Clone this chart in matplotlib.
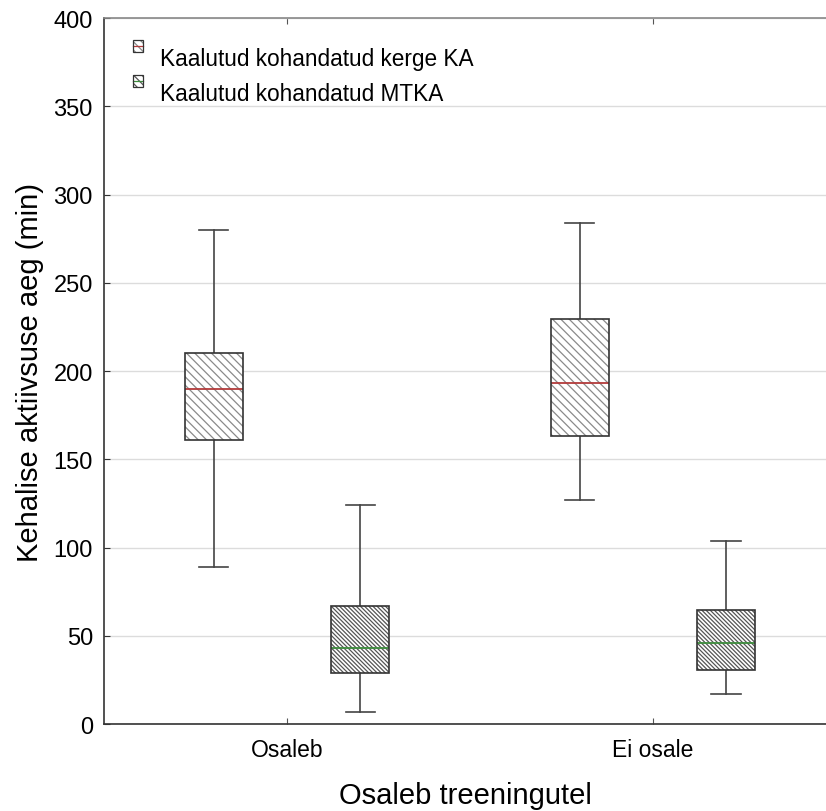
import matplotlib
matplotlib.use("Agg")
import matplotlib.pyplot as plt
from matplotlib.patches import Rectangle, PathPatch
from matplotlib.lines import Line2D
from matplotlib.legend_handler import HandlerBase
import numpy as np

plt.rcParams['font.family'] = ['Liberation Sans', 'DejaVu Sans']
plt.rcParams['hatch.linewidth'] = 0.9

categories = ["Osaleb", "Ei osale"]
series_names = ["Kaalutud kohandatud kerge KA", "Kaalutud kohandatud MTKA"]

# per series: values for [Osaleb, Ei osale]
light_whislo = [89, 127]
light_q1 = [161, 163]
light_med = [190, 193]
light_q3 = [210, 229.5]
light_whishi = [280, 284]

mod_whislo = [7, 17]
mod_q1 = [29, 31]
mod_med = [43, 46]
mod_q3 = [67, 64.6]
mod_whishi = [124, 104]

yticks = [0, 50, 100, 150, 200, 250, 300, 350, 400]


class LegendKey:
    def __init__(self, hatch, hcol, mcol):
        self.hatch, self.hcol, self.mcol = hatch, hcol, mcol


class RaisedHandler(HandlerBase):
    def __init__(self, raise_pts=8.0, **kw):
        super().__init__(**kw)
        self.raise_pts = raise_pts

    def create_artists(self, legend, orig_handle, xdescent, ydescent, width, height,
                       fontsize, trans):
        x0, y0 = -xdescent, -ydescent + self.raise_pts
        r1 = Rectangle((x0, y0), width, height, facecolor='white', edgecolor=orig_handle.hcol,
                       hatch=orig_handle.hatch, linewidth=0.0, transform=trans)
        r2 = Rectangle((x0, y0), width, height, fill=False, edgecolor='#333333',
                       linewidth=0.9, transform=trans)
        ln = Line2D([x0, x0 + width], [y0 + height * 0.5] * 2, color=orig_handle.mcol,
                    linewidth=0.9, transform=trans)
        return [r1, ln, r2]


fig = plt.figure(figsize=(8.26, 8.12), dpi=100)
ax = fig.add_axes([0.1259, 0.1068, 0.8741, 0.8698])

ax.yaxis.grid(True, color='#dcdcdc', linewidth=1.0, zorder=0)
ax.set_axisbelow(True)

def stats(lo, q1, med, q3, hi):
    return [dict(whislo=lo[i], q1=q1[i], med=med[i], q3=q3[i], whishi=hi[i], fliers=[])
            for i in range(len(lo))]

x = np.arange(len(categories))
offset = 0.2
width = 0.159

specs = [
    (stats(light_whislo, light_q1, light_med, light_q3, light_whishi), x - offset, '\\\\\\\\', '#8a8a8a', '#b23a3a'),
    (stats(mod_whislo, mod_q1, mod_med, mod_q3, mod_whishi), x + offset, '\\\\\\\\\\\\\\\\', '#555555', '#3c8c3c'),
]

handles = []
for st, pos, hatch, hcol, mcol in specs:
    bp = ax.bxp(st, positions=pos, widths=width, patch_artist=True, showfliers=False,
                boxprops=dict(facecolor='white', edgecolor=hcol, linewidth=0.0, hatch=hatch),
                whiskerprops=dict(color='#444444', linewidth=1.2),
                capprops=dict(color='#444444', linewidth=1.2),
                medianprops=dict(color=mcol, linewidth=1.3),
                capwidths=0.08, manage_ticks=False)
    for b in bp['boxes']:
        b.set_zorder(3)
        outline = PathPatch(b.get_path(), transform=b.get_transform(), fill=False,
                            edgecolor='#333333', linewidth=1.2, zorder=5)
        ax.add_patch(outline)
    for m in bp['medians']:
        m.set_zorder(4)
    handles.append(LegendKey(hatch[:4], hcol, mcol))

ax.set_xlim(-0.5, 1.473)
ax.set_ylim(0, 400)
ax.set_yticks(yticks)
ax.set_xticks(x)
ax.set_xticklabels(categories, fontsize=16.5)
ax.tick_params(axis='y', labelsize=17, direction='in', length=4, color='#333333', pad=8)
ax.tick_params(axis='x', direction='in', length=4, top=True, color='#555555', pad=10)

for s in ['left', 'bottom']:
    ax.spines[s].set_color('#333333')
    ax.spines[s].set_linewidth(1.2)
ax.spines['top'].set_color('#888888')
ax.spines['top'].set_linewidth(1.2)
ax.spines['right'].set_visible(False)

ax.set_ylabel("Kehalise aktiivsuse aeg (min)", fontsize=21, labelpad=7)
ax.set_xlabel("Osaleb treeningutel", fontsize=21, labelpad=14)

ax.legend(handles, series_names, loc='upper left', frameon=False, fontsize=16.3,
          handlelength=0.42, handleheight=0.46, handletextpad=0.75, labelspacing=0.55,
          borderaxespad=0.0, bbox_to_anchor=(0.0277, 0.972),
          handler_map={LegendKey: RaisedHandler(raise_pts=8.0)})

fig.savefig("out.png", dpi=100)
